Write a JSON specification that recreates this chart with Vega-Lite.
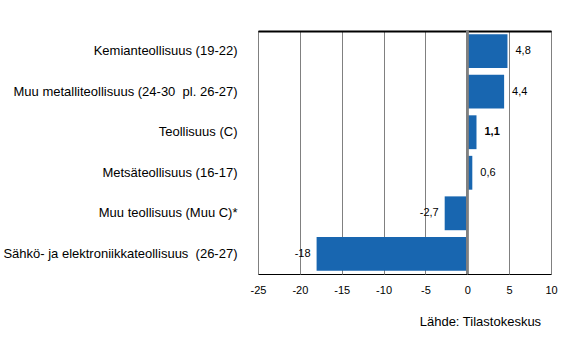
{
  "$schema": "https://vega.github.io/schema/vega-lite/v6.json",
  "autosize": "none",
  "width": 293,
  "height": 243,
  "padding": {"left": 258, "top": 31, "right": 15, "bottom": 87},
  "background": "white",
  "config": {
    "locale": {"number": {"decimal": ",", "thousands": " ", "grouping": [3], "currency": ["", " €"], "minus": "-"}},
    "view": {"stroke": "#000000", "strokeWidth": 1},
    "font": "Liberation Sans"
  },
  "title": {"text": "Lähde: Tilastokeskus", "orient": "bottom", "anchor": "end", "offset": 21, "dx": -16, "fontSize": 13, "fontWeight": "normal", "color": "#000000", "font": "Liberation Sans"},
  "data": {"values": [
    {"cat": "Kemianteollisuus (19-22)", "value": 4.8},
    {"cat": "Muu metalliteollisuus (24-30\u00a0 pl. 26-27)", "value": 4.4},
    {"cat": "Teollisuus (C)\u00a0", "value": 1.1},
    {"cat": "Metsäteollisuus (16-17)", "value": 0.6},
    {"cat": "Muu teollisuus (Muu C)*", "value": -2.7},
    {"cat": "Sähkö- ja elektroniikkateollisuus\u00a0 (26-27)", "value": -18}
  ]},
  "encoding": {
    "y": {"field": "cat", "type": "nominal", "sort": null, "scale": {"paddingInner": 0.165, "paddingOuter": 0.08},
      "axis": {"title": null, "ticks": false, "domain": false, "labelFontSize": 13, "labelColor": "#000000", "labelPadding": 21, "labelFont": "Liberation Sans", "labelLimit": 300}}
  },
  "resolve": {"axis": {"x": "independent"}},
  "layer": [
    {
      "mark": {"type": "bar", "color": "#1866b0"},
      "encoding": {
        "x": {"field": "value", "type": "quantitative", "scale": {"domain": [-25, 10], "nice": false},
          "axis": {"title": null, "values": [-25, -20, -15, -10, -5, 0, 5, 10], "format": "~g", "ticks": false, "domain": false, "grid": true, "gridColor": "#808080", "gridOpacity": 1, "gridWidth": 1, "labelFontSize": 11, "labelColor": "#000000", "labelPadding": 10, "labelFlush": false, "labelFont": "Liberation Sans"}}
      }
    },
    {
      "mark": {"type": "rule", "color": "#808080", "strokeWidth": 2},
      "encoding": {"x": {"datum": 0, "type": "quantitative",
        "axis": {"orient": "top", "title": null, "labels": false, "ticks": false, "grid": false, "domain": true, "domainColor": "#000000", "domainWidth": 2}}, "y": null}
    },
    {
      "transform": [{"filter": "datum.value >= 0 && datum.value !== 1.1"}],
      "mark": {"type": "text", "fontSize": 11, "color": "#000000", "font": "Liberation Sans", "align": "left", "dx": 8},
      "encoding": {
        "x": {"field": "value", "type": "quantitative", "axis": null},
        "text": {"field": "value", "type": "quantitative", "format": "~g"}
      }
    },
    {
      "transform": [{"filter": "datum.value === 1.1"}],
      "mark": {"type": "text", "fontSize": 11, "color": "#000000", "font": "Liberation Sans", "fontWeight": "bold", "align": "left", "dx": 8},
      "encoding": {
        "x": {"field": "value", "type": "quantitative", "axis": null},
        "text": {"field": "value", "type": "quantitative", "format": "~g"}
      }
    },
    {
      "transform": [{"filter": "datum.value < 0"}],
      "mark": {"type": "text", "fontSize": 11, "color": "#000000", "font": "Liberation Sans", "align": "right", "dx": -6},
      "encoding": {
        "x": {"field": "value", "type": "quantitative", "axis": null},
        "text": {"field": "value", "type": "quantitative", "format": "~g"}
      }
    }
  ]
}
